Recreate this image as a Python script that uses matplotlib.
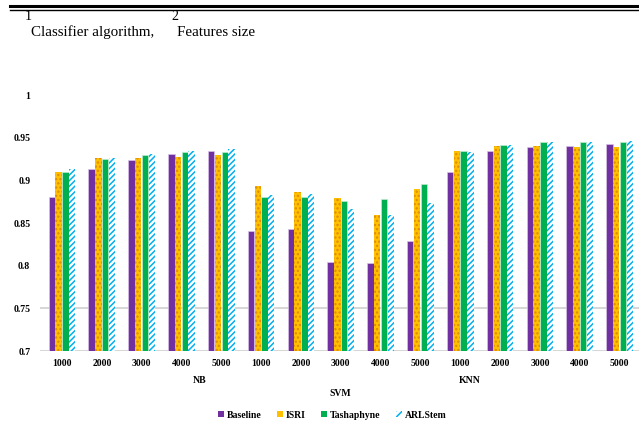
import numpy as np
import matplotlib.pyplot as plt
from matplotlib.lines import Line2D
from matplotlib.patches import Patch

plt.rcParams['font.family'] = ['Liberation Serif', 'DejaVu Serif']
plt.rcParams['hatch.linewidth'] = 1.1

sizes = ['1000', '2000', '3000', '4000', '5000'] * 3
algos = ['NB', 'SVM', 'KNN']
series = ['Baseline', 'ISRI', 'Tashaphyne', 'ARLStem']

baseline = [0.881, 0.913, 0.924, 0.931, 0.934,
            0.841, 0.843, 0.805, 0.803, 0.829,
            0.910, 0.934, 0.939, 0.940, 0.943]
isri = [0.910, 0.926, 0.926, 0.928, 0.930,
        0.894, 0.887, 0.879, 0.859, 0.890,
        0.935, 0.940, 0.940, 0.939, 0.939]
tashaphyne = [0.910, 0.925, 0.930, 0.933, 0.933,
              0.881, 0.881, 0.876, 0.878, 0.896,
              0.934, 0.942, 0.945, 0.945, 0.945]
arlstem = [0.913, 0.926, 0.931, 0.935, 0.937,
           0.883, 0.884, 0.867, 0.859, 0.874,
           0.933, 0.942, 0.945, 0.945, 0.946]

colors = ['#7030A0', '#FFC000', '#00B050', '#00B0F0']

fig = plt.figure(figsize=(6.39, 4.23), dpi=100)
ax = fig.add_axes([0.0626, 0.170, 0.937, 0.605])

x = np.arange(len(sizes))
w = 0.16
off = 0.17
base = 0.7
ax.bar(x - 1.5 * off, np.array(baseline) - base, w, bottom=base,
       color=colors[0], edgecolor='#D9C3E8', linewidth=0.5, zorder=3)
ax.bar(x - 0.5 * off, np.array(isri) - base, w, bottom=base,
       color=colors[1], edgecolor='#E08A00', linewidth=0, hatch='....', zorder=3)
ax.bar(x + 0.5 * off, np.array(tashaphyne) - base, w, bottom=base,
       color=colors[2], edgecolor='#BFEBCF', linewidth=0.5, zorder=3)
ax.bar(x + 1.5 * off, np.array(arlstem) - base, w, bottom=base,
       color='white', edgecolor=colors[3], linewidth=0, hatch='//////', zorder=3)

ax.set_xlim(-0.552, 14.48)
ax.set_ylim(0.7, 1.0)
ax.set_yticks([0.7, 0.75, 0.8, 0.85, 0.9, 0.95, 1.0])
ax.set_yticklabels(['0.7', '0.75', '0.8', '0.85', '0.9', '0.95', '1'],
                   fontsize=7, fontweight='bold')
ax.axhline(0.75, color='#D0D0D0', lw=1.2, zorder=1)
ax.axhline(0.7, color='#D0D0D0', lw=1.2, zorder=1)
ax.set_xticks(x)
ax.set_xticklabels(sizes, fontsize=7, fontweight='bold')
ax.tick_params(length=0, pad=6)
ax.tick_params(axis='y', pad=7)
for s in ax.spines.values():
    s.set_visible(False)

# group labels
fig.text(200 / 639, 1 - 380 / 423, algos[0], ha='center', va='center', fontsize=7, fontweight='bold')
fig.text(340 / 639, 1 - 393 / 423, algos[1], ha='center', va='center', fontsize=7, fontweight='bold')
fig.text(470 / 639, 1 - 380 / 423, algos[2], ha='center', va='center', fontsize=7, fontweight='bold')

handles = [Patch(facecolor=colors[0]), Patch(facecolor=colors[1]),
           Patch(facecolor=colors[2]),
           Patch(facecolor='white', edgecolor=colors[3], hatch='/////', linewidth=0)]
fig.legend(handles, series, loc='center', bbox_to_anchor=(0.52, 1 - 415 / 423),
           ncol=4, frameon=False, handlelength=0.6, handleheight=0.6,
           handletextpad=0.3, columnspacing=1.6,
           prop={'size': 7, 'weight': 'bold'})

# header rules and caption
fig.add_artist(Line2D([10 / 639, 1], [1 - 6 / 423, 1 - 6 / 423], color='black', lw=2.2))
fig.add_artist(Line2D([10 / 639, 1], [1 - 10.5 / 423, 1 - 10.5 / 423], color='black', lw=1.0))
fig.text(25 / 639, 1 - 16 / 423, '1', ha='left', va='center', fontsize=10)
fig.text(31 / 639, 1 - 32 / 423, 'Classifier algorithm,', ha='left', va='center', fontsize=10.8)
fig.text(171 / 639, 1 - 16 / 423, '2', ha='left', va='center', fontsize=10)
fig.text(177 / 639, 1 - 32 / 423, 'Features size', ha='left', va='center', fontsize=10.8)

fig.savefig('out.png', dpi=100)
